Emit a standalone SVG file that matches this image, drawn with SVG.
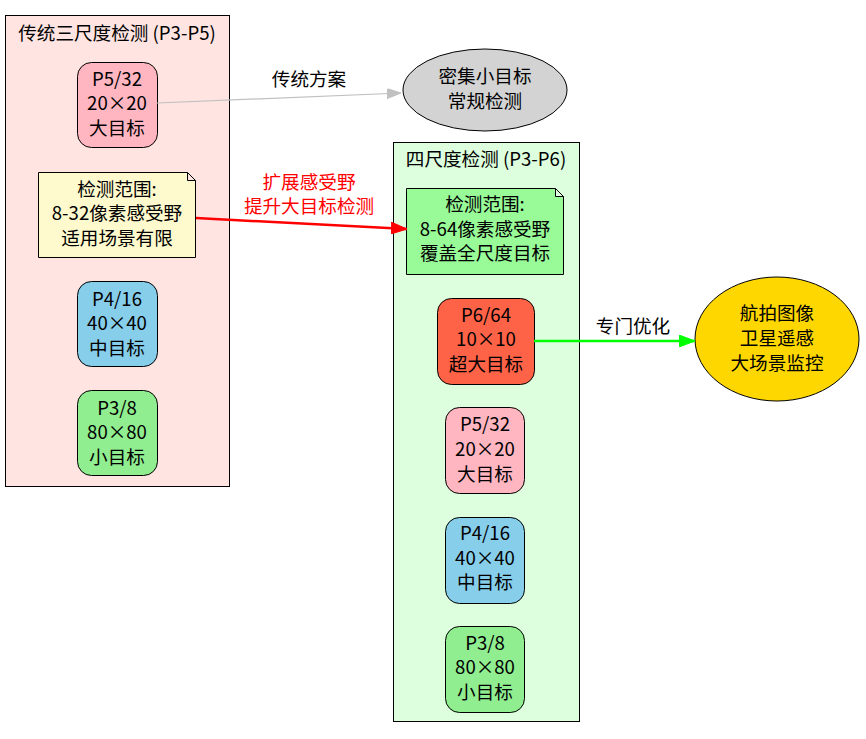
<svg xmlns="http://www.w3.org/2000/svg" width="866" height="739" viewBox="0 0 866 739">
<defs>
<style>
text{font-family:"Noto Sans CJK SC","Noto Sans",sans-serif;font-size:18.6px;text-anchor:middle;fill:#000}
.node{stroke:#000;stroke-width:1}
.cl{stroke:#000;stroke-width:1}
</style>
<marker id="ag" markerWidth="14" markerHeight="10" refX="14" refY="5" orient="auto" markerUnits="userSpaceOnUse"><path d="M0,0 L14,5 L0,10 Z" fill="#c0c0c0" stroke="#c0c0c0"/></marker>
<marker id="ar" markerWidth="16" markerHeight="12" refX="16" refY="6" orient="auto" markerUnits="userSpaceOnUse"><path d="M0,0 L16,6 L0,12 Z" fill="#ff0000" stroke="#ff0000"/></marker>
<marker id="al" markerWidth="16" markerHeight="12" refX="16" refY="6" orient="auto" markerUnits="userSpaceOnUse"><path d="M0,0 L16,6 L0,12 Z" fill="#00ff00" stroke="#00ff00"/></marker>
</defs>
<rect width="866" height="739" fill="#fff"/>
<g id="cluster_old">
<rect class="cl" x="5.5" y="15.5" width="224" height="471" fill="#ffe4e1"/>
<text x="117" y="40">传统三尺度检测 (P3-P5)</text>
</g>
<g id="cluster_new">
<rect class="cl" x="393.5" y="142.5" width="186" height="579" fill="#ddffdd"/>
<text x="486" y="166">四尺度检测 (P3-P6)</text>
</g>
<g id="old_p5">
<rect class="node" x="77.5" y="62.5" width="80" height="85" rx="14" fill="#ffb6c1"/>
<text x="117" y="86">P5/32</text><text x="117" y="110">20×20</text><text x="117" y="135">大目标</text>
</g>
<g id="old_note">
<path class="node" d="M38.5,172.5 H187.5 L195.5,180.5 V257.5 H38.5 Z M187.5,172.5 V180.5 H195.5" fill="#fffacd"/>
<text x="117" y="196">检测范围:</text><text x="117" y="220">8-32像素感受野</text><text x="117" y="245">适用场景有限</text>
</g>
<g id="old_p4">
<rect class="node" x="77.5" y="281.5" width="80" height="85" rx="14" fill="#87ceeb"/>
<text x="117" y="306">P4/16</text><text x="117" y="330">40×40</text><text x="117" y="355">中目标</text>
</g>
<g id="old_p3">
<rect class="node" x="77.5" y="390.5" width="80" height="85" rx="14" fill="#90ee90"/>
<text x="117" y="415">P3/8</text><text x="117" y="439">80×80</text><text x="117" y="464">小目标</text>
</g>
<g id="dense">
<ellipse class="node" cx="485" cy="90" rx="82" ry="41" fill="#d3d3d3"/>
<text x="485" y="83">密集小目标</text><text x="485" y="108">常规检测</text>
</g>
<g id="new_note">
<path class="node" d="M406.5,188.5 H555.5 L563.5,196.5 V274.5 H406.5 Z M555.5,188.5 V196.5 H563.5" fill="#98fb98"/>
<text x="485" y="211">检测范围:</text><text x="485" y="236">8-64像素感受野</text><text x="485" y="260">覆盖全尺度目标</text>
</g>
<g id="new_p6">
<rect class="node" x="437.5" y="298.5" width="97" height="86" rx="14" fill="#ff6347"/>
<text x="486" y="322">P6/64</text><text x="486" y="346">10×10</text><text x="486" y="371">超大目标</text>
</g>
<g id="new_p5">
<rect class="node" x="445.5" y="407.5" width="79" height="86" rx="14" fill="#ffb6c1"/>
<text x="485" y="431">P5/32</text><text x="485" y="456">20×20</text><text x="485" y="481">大目标</text>
</g>
<g id="new_p4">
<rect class="node" x="445.5" y="517.5" width="79" height="86" rx="14" fill="#87ceeb"/>
<text x="485" y="540">P4/16</text><text x="485" y="565">40×40</text><text x="485" y="589">中目标</text>
</g>
<g id="new_p3">
<rect class="node" x="445.5" y="626.5" width="79" height="86" rx="14" fill="#90ee90"/>
<text x="485" y="650">P3/8</text><text x="485" y="674">80×80</text><text x="485" y="699">小目标</text>
</g>
<g id="app">
<ellipse class="node" cx="777" cy="339" rx="82" ry="62" fill="#ffd700"/>
<text x="777" y="320">航拍图像</text><text x="777" y="345">卫星遥感</text><text x="777" y="370">大场景监控</text>
</g>
<g id="edges">
<path d="M157,103 L401,93" stroke="#c0c0c0" stroke-width="1.2" fill="none" marker-end="url(#ag)"/>
<text x="309" y="86">传统方案</text>
<path d="M196,218 L407,229" stroke="#ff0000" stroke-width="2.5" fill="none" marker-end="url(#ar)"/>
<text x="309" y="189" style="fill:#ff0000">扩展感受野</text>
<text x="309" y="213" style="fill:#ff0000">提升大目标检测</text>
<path d="M534,341 L695,341" stroke="#00ff00" stroke-width="2.5" fill="none" marker-end="url(#al)"/>
<text x="633" y="333">专门优化</text>
</g>
</svg>
